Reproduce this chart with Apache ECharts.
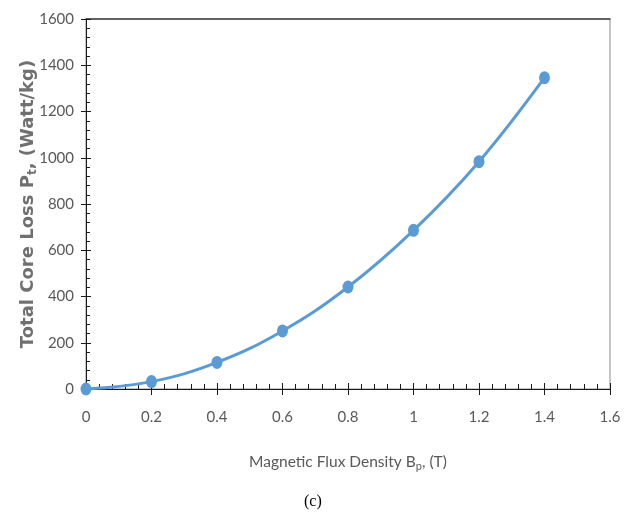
<!DOCTYPE html>
<html>
<head>
<meta charset="utf-8">
<script src="https://cdn.jsdelivr.net/npm/echarts@6/dist/echarts.min.js"></script>
<style>html,body{margin:0;padding:0;background:#fff;}#c{width:633px;height:514px;}</style>
</head>
<body>
<div id="c"></div>
<script>
const fluxDensity = [0, 0.2, 0.4, 0.6, 0.8, 1.0, 1.2, 1.4];
const coreLoss = [0, 32, 115, 251, 441, 686, 983, 1346];
const xTicks = { min: 0, max: 1.6, interval: 0.2 };
const yTicks = { min: 0, max: 1600, interval: 200 };

const labelFont = { fontFamily: 'Lato', fontSize: 15, color: '#595959' };
const chart = echarts.init(document.getElementById('c'));
chart.setOption({
  animation: false,
  backgroundColor: '#fff',
  grid: { left: 86, right: 23, top: 19, bottom: 125, show: true, borderColor: '#8c8c8c', borderWidth: 1 },
  xAxis: [
    {
      type: 'value', position: 'bottom', min: xTicks.min, max: xTicks.max, interval: xTicks.interval,
      axisLine: { show: true, onZero: false, lineStyle: { color: '#1a1a1a', width: 1 } },
      axisTick: { show: true, inside: true, length: 6, lineStyle: { color: '#1a1a1a' } },
      minorTick: { show: true, splitNumber: 5, length: 5, lineStyle: { color: '#1a1a1a' } },
      splitLine: { show: false },
      axisLabel: Object.assign({ margin: 21, formatter: v => String(+v.toFixed(1)) }, labelFont),
      name: 'Magnetic Flux Density B{sub|p}, (T)',
      nameLocation: 'middle', nameGap: 63,
      nameTextStyle: {
        fontFamily: 'Lato', fontSize: 15.5, color: '#595959',
        rich: { sub: { fontFamily: 'Lato', fontSize: 11, color: '#595959', verticalAlign: 'bottom', padding: [9, 0, 0, 0] } }
      }
    },
    {
      type: 'value', position: 'bottom', min: xTicks.min, max: xTicks.max, interval: xTicks.interval,
      axisLine: { show: false, onZero: false },
      axisTick: { show: true, inside: false, length: 6, lineStyle: { color: '#1a1a1a' } },
      axisLabel: { show: false }, splitLine: { show: false }
    },
    {
      type: 'value', position: 'top', min: xTicks.min, max: xTicks.max, interval: xTicks.interval,
      axisLine: { show: true, onZero: false, lineStyle: { color: '#404040', width: 1.5 } },
      axisTick: { show: false }, axisLabel: { show: false }, splitLine: { show: false }
    }
  ],
  yAxis: [
    {
      type: 'value', position: 'left', min: yTicks.min, max: yTicks.max, interval: yTicks.interval,
      axisLine: { show: true, onZero: false, lineStyle: { color: '#1a1a1a', width: 1 } },
      axisTick: { show: true, inside: true, length: 5, lineStyle: { color: '#1a1a1a' } },
      minorTick: { show: true, splitNumber: 5, length: 4, lineStyle: { color: '#1a1a1a' } },
      splitLine: { show: false },
      axisLabel: Object.assign({ margin: 12, formatter: v => String(v) }, labelFont),
      name: 'Total Core Loss P{sub|t}, (Watt/kg)',
      nameLocation: 'middle', nameGap: 47, nameMoveOverlap: false,
      nameTextStyle: {
        fontFamily: 'DejaVu Sans', fontSize: 18, fontWeight: 'bold', color: '#707070',
        rich: { sub: { fontFamily: 'DejaVu Sans', fontSize: 12, fontWeight: 'bold', color: '#707070', verticalAlign: 'bottom', padding: [9, 0, 0, 0] } }
      }
    },
    {
      type: 'value', position: 'left', min: yTicks.min, max: yTicks.max, interval: yTicks.interval,
      axisLine: { show: false, onZero: false },
      axisTick: { show: true, inside: false, length: 5, lineStyle: { color: '#1a1a1a' } },
      axisLabel: { show: false }, splitLine: { show: false }
    }
  ],
  series: [{
    type: 'line',
    data: fluxDensity.map((x, i) => [x, coreLoss[i]]),
    smooth: 0.4,
    symbol: 'circle',
    symbolSize: [11, 13],
    lineStyle: { color: '#5b9bd5', width: 3 },
    itemStyle: { color: '#5b9bd5' },
    z: 5
  }],
  graphic: [{
    type: 'text', left: 304, top: 494,
    style: { text: '(c)', fontFamily: 'Liberation Serif', fontSize: 16, fill: '#000' }
  }]
});
</script>
</body>
</html>
